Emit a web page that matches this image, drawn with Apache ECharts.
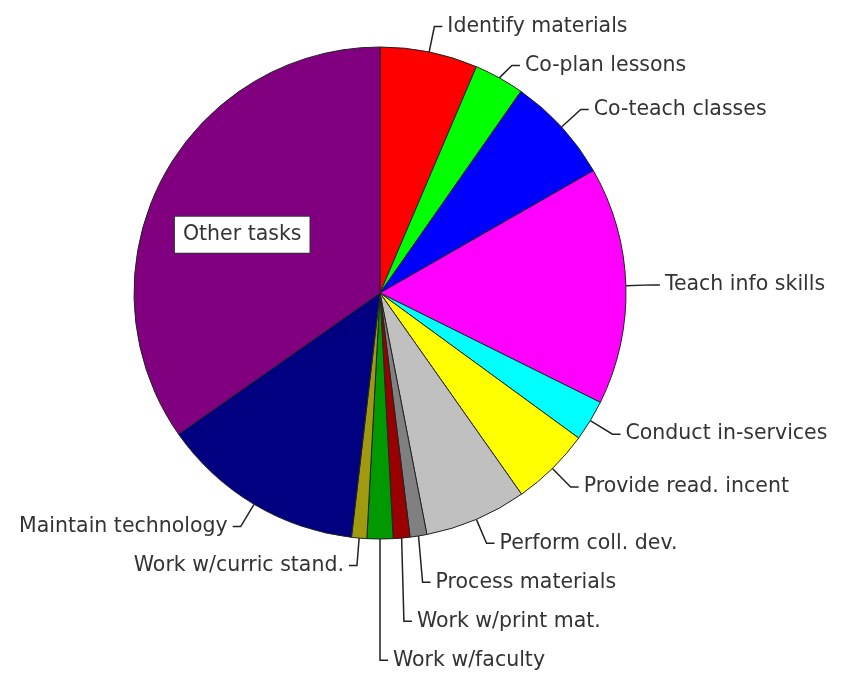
<!DOCTYPE html>
<html>
<head>
<meta charset="utf-8">
<script src="https://cdn.jsdelivr.net/npm/echarts@6/dist/echarts.min.js"></script>
<style>
  html, body { margin: 0; padding: 0; background: #fff; }
  #taskPie { width: 849px; height: 673px; }
</style>
</head>
<body>
<div id="taskPie"></div>
<script>
// task names, clockwise from 12 o'clock
var taskNames = [
  'Identify materials', 'Co-plan lessons', 'Co-teach classes', 'Teach info skills',
  'Conduct in-services', 'Provide read. incent', 'Perform coll. dev.', 'Process materials',
  'Work w/print mat.', 'Work w/faculty', 'Work w/curric stand.', 'Maintain technology',
  'Other tasks'
];
// share of time (%)
var taskShare = [6.4, 3.3, 7.0, 15.6, 2.7, 5.2, 6.7, 1.1, 1.1, 1.7, 1.0, 13.4, 34.7];
var sliceColors = [
  '#ff0000', '#00ff00', '#0000ff', '#ff00ff', '#00ffff', '#ffff00', '#c0c0c0',
  '#808080', '#9a0000', '#009a00', '#a09a10', '#000080', '#800080'
];

var pieCenter = [380, 293];
var pieRadius = 246;
var lineLen = 26, lineLen2 = 8, textGap = 5;

var shareTotal = 0;
for (var k = 0; k < taskShare.length; k++) shareTotal += taskShare[k];

// mid angle of a slice, clockwise from 12 o'clock, radians
function midAngle(idx) {
  var before = 0;
  for (var j = 0; j < idx; j++) before += taskShare[j];
  return (before + taskShare[idx] / 2) / shareTotal * Math.PI * 2;
}

var taskPie = echarts.init(document.getElementById('taskPie'));

var pieData = [];
for (var i = 0; i < taskNames.length; i++) {
  var item = {
    name: taskNames[i],
    value: taskShare[i],
    itemStyle: { color: sliceColors[i] }
  };
  // the big slice keeps its label inside, in a white box
  if (taskNames[i] === 'Other tasks') {
    item.label = {
      position: 'inside',
      backgroundColor: '#fff',
      borderColor: '#333',
      borderWidth: 1,
      padding: [6, 8],
      lineHeight: 24
    };
    item.labelLine = { show: false };
  }
  pieData.push(item);
}

taskPie.setOption({
  animation: false,
  series: [
    {
      type: 'pie',
      left: 0,
      top: 0,
      right: 0,
      bottom: -8,
      center: pieCenter,
      radius: pieRadius,
      startAngle: 90,
      clockwise: true,
      avoidLabelOverlap: true,
      label: {
        show: true,
        position: 'outside',
        fontFamily: 'DejaVu Sans',
        fontSize: 20.5,
        color: '#333',
        lineHeight: 37,
        bleedMargin: 0,
        formatter: '{b}'
      },
      labelLine: {
        show: true,
        length: lineLen,
        length2: lineLen2,
        lineStyle: { color: '#222', width: 1.5 }
      },
      // keep labels near their slice (x from the angle), y from the overlap pass
      labelLayout: function (params) {
        var idx = params.dataIndex;
        if (idx === taskNames.length - 1) {
          return { dx: -26 };
        }
        var a = midAngle(idx);
        var s = Math.sin(a), c = Math.cos(a);
        var dir = s >= 0 ? 1 : -1;
        var ex = pieCenter[0] + pieRadius * s;
        var ey = pieCenter[1] - pieRadius * c;
        var bx = pieCenter[0] + (pieRadius + lineLen) * s;
        var ly = params.labelRect.y + params.labelRect.height / 2;
        var tx = bx + dir * lineLen2;
        return {
          x: tx + dir * textGap,
          y: ly,
          align: dir > 0 ? 'left' : 'right',
          verticalAlign: 'middle',
          labelLinePoints: [[ex, ey], [bx, ly], [tx, ly]]
        };
      },
      itemStyle: { borderColor: '#222', borderWidth: 1 },
      emphasis: { disabled: true },
      data: pieData
    }
  ]
});
</script>
</body>
</html>
